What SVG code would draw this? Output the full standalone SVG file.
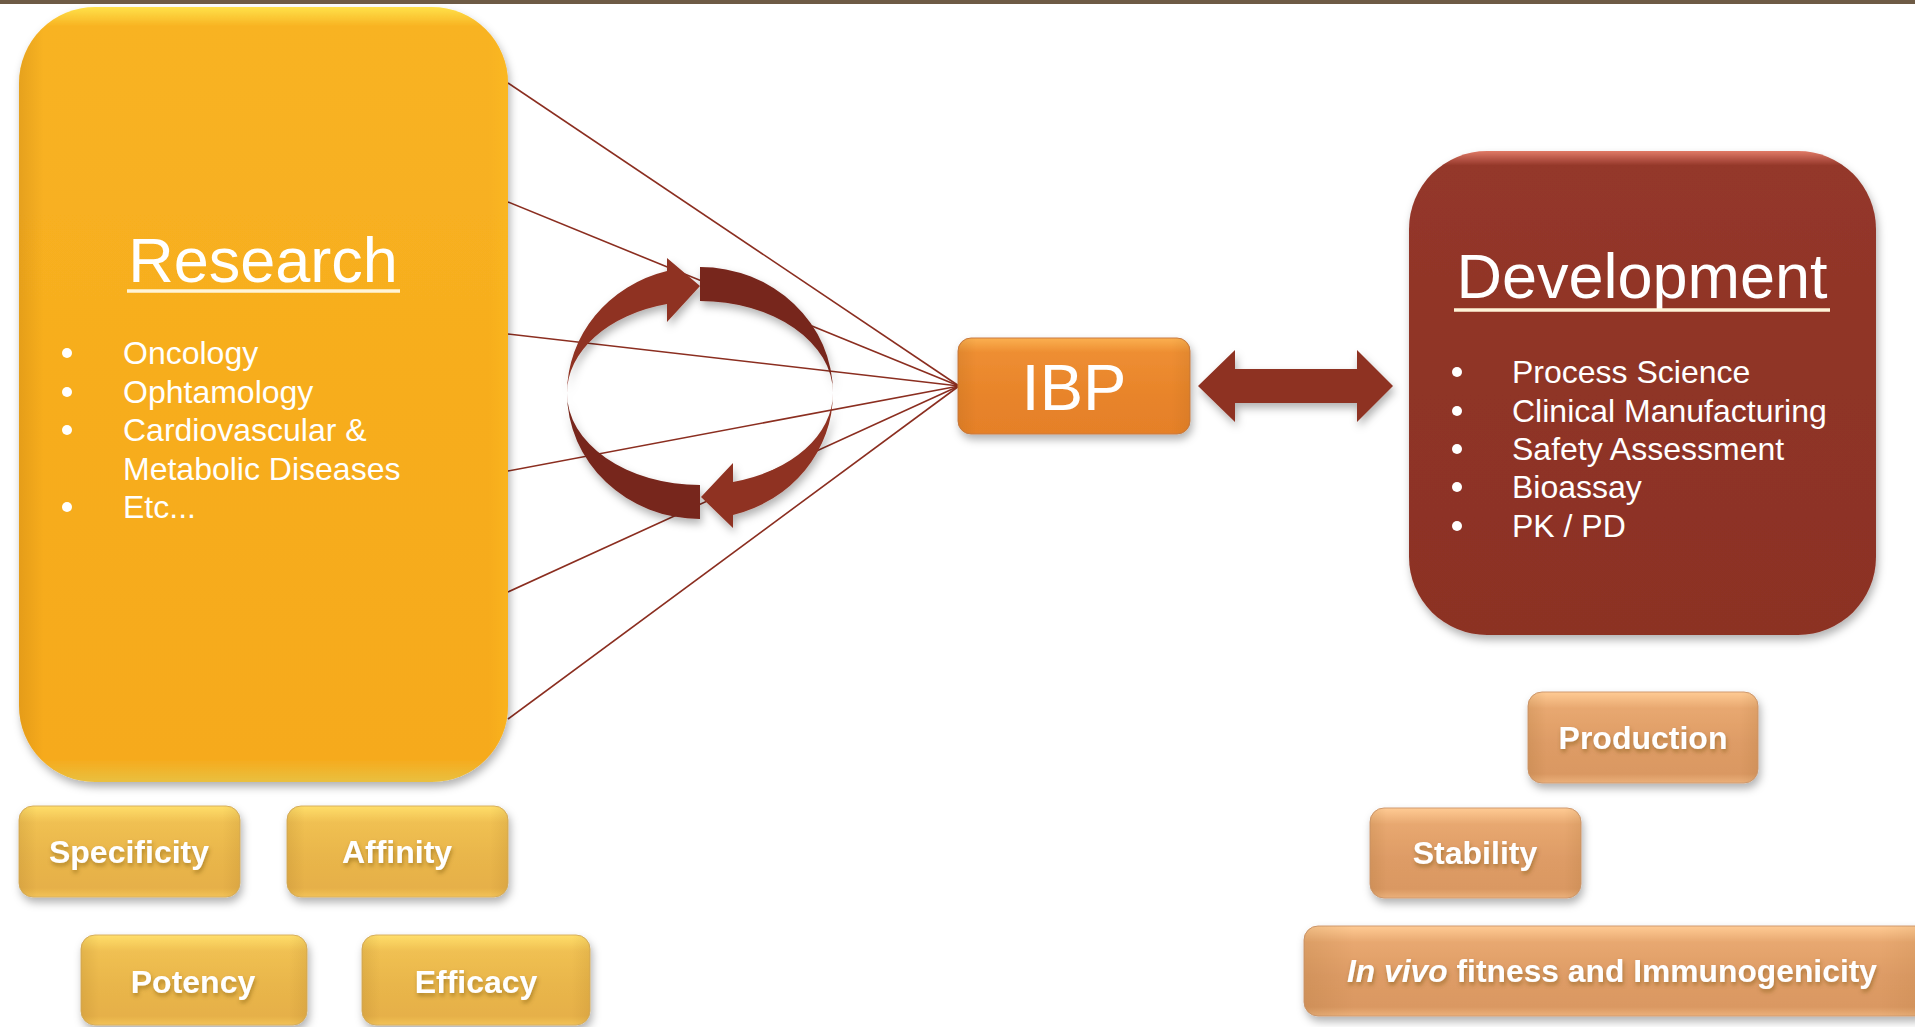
<svg xmlns="http://www.w3.org/2000/svg" width="1915" height="1027" viewBox="0 0 1915 1027">
<defs>
<style>
.t{font-family:"Liberation Sans",Arial,sans-serif;fill:#fff}
.title{font-size:63px}
.item{font-size:32px}
.btn{font-size:32px;font-weight:bold;text-anchor:middle}
.fan{stroke:#8B2E20;stroke-width:1.6;fill:none}
.ul{stroke:#FFF4D8;stroke-width:3.5}
</style>
<filter id="sh" x="-10%" y="-10%" width="125%" height="130%">
<feDropShadow dx="2" dy="5" stdDeviation="4" flood-color="#000" flood-opacity="0.3"/>
</filter>
<filter id="tsh" x="-10%" y="-20%" width="120%" height="160%">
<feDropShadow dx="1" dy="3" stdDeviation="2" flood-color="#6a4a10" flood-opacity="0.45"/>
</filter>
<linearGradient id="gRes" x1="0" y1="0" x2="0" y2="1">
<stop offset="0" stop-color="#FFE14A"/>
<stop offset="0.025" stop-color="#F8B322"/>
<stop offset="0.5" stop-color="#F7AD1E"/>
<stop offset="0.97" stop-color="#F6AA1C"/>
<stop offset="1" stop-color="#E9C040"/>
</linearGradient>
<linearGradient id="gResH" x1="0" y1="0" x2="1" y2="0">
<stop offset="0" stop-color="#B07010" stop-opacity="0.25"/>
<stop offset="0.05" stop-color="#B07010" stop-opacity="0"/>
<stop offset="0.96" stop-color="#FFC020" stop-opacity="0"/>
<stop offset="1" stop-color="#FFC020" stop-opacity="0.4"/>
</linearGradient>
<linearGradient id="gDev" x1="0" y1="0" x2="0" y2="1">
<stop offset="0" stop-color="#E07A66"/>
<stop offset="0.03" stop-color="#94372A"/>
<stop offset="0.5" stop-color="#8F3426"/>
<stop offset="1" stop-color="#8C3224"/>
</linearGradient>
<linearGradient id="gIbp" x1="0" y1="0" x2="0" y2="1">
<stop offset="0" stop-color="#FBB050"/>
<stop offset="0.15" stop-color="#EE8E32"/>
<stop offset="0.6" stop-color="#E8842A"/>
<stop offset="1" stop-color="#E58028"/>
</linearGradient>
<linearGradient id="gY" x1="0" y1="0" x2="0" y2="1">
<stop offset="0" stop-color="#FFDE6A"/>
<stop offset="0.18" stop-color="#F0C052"/>
<stop offset="0.55" stop-color="#E9B64B"/>
<stop offset="0.9" stop-color="#E6B048"/>
<stop offset="1" stop-color="#F2C257"/>
</linearGradient>
<linearGradient id="gO" x1="0" y1="0" x2="0" y2="1">
<stop offset="0" stop-color="#FFCB94"/>
<stop offset="0.18" stop-color="#E8A870"/>
<stop offset="0.55" stop-color="#DE9C66"/>
<stop offset="0.9" stop-color="#DA9862"/>
<stop offset="1" stop-color="#EBB07A"/>
</linearGradient>
<linearGradient id="gSide" x1="0" y1="0" x2="1" y2="0">
<stop offset="0" stop-color="#7a5010" stop-opacity="0.12"/>
<stop offset="0.08" stop-color="#7a5010" stop-opacity="0"/>
<stop offset="0.92" stop-color="#7a5010" stop-opacity="0"/>
<stop offset="1" stop-color="#7a5010" stop-opacity="0.1"/>
</linearGradient>
</defs>

<rect x="0" y="0" width="1915" height="1027" fill="#fff"/>
<rect x="0" y="0" width="1915" height="4" fill="#6E5B45"/>

<g id="connectors">
<line class="fan" x1="508" y1="83" x2="959" y2="386"/>
<line class="fan" x1="508" y1="202" x2="959" y2="386"/>
<line class="fan" x1="508" y1="334" x2="959" y2="386"/>
<line class="fan" x1="508" y1="471" x2="959" y2="386"/>
<line class="fan" x1="508" y1="592" x2="959" y2="386"/>
<line class="fan" x1="508" y1="719" x2="959" y2="386"/>
<path id="double-arrow" filter="url(#sh)" fill="#8E3122" d="M1198,386 L1235,350 L1235,369 L1357,369 L1357,350 L1393,386 L1357,422 L1357,403 L1235,403 L1235,422 Z"/>
</g>

<g id="cycle" filter="url(#sh)">
<path fill="#77251B" d="M700,267 A133,126 0 0 1 833,393 A133,92 0 0 0 700,301 Z"/>
<path fill="#77251B" d="M700,519 A133,126 0 0 1 567,393 A133,92 0 0 0 700,485 Z"/>
<path fill="#8F3222" d="M567,393 A133,126 0 0 1 667,271 L667,258 L700,286 L667,322 L667,304 A133,92 0 0 0 567,393 Z"/>
<path fill="#8F3222" d="M833,393 A133,126 0 0 1 733,515 L733,528 L701,497 L733,463 L733,482 A133,92 0 0 0 833,393 Z"/>
</g>

<g id="research">
<rect x="19" y="7" width="489" height="775" rx="76" ry="76" fill="url(#gRes)" filter="url(#sh)"/>
<rect x="19" y="7" width="489" height="775" rx="76" ry="76" fill="url(#gResH)"/>
<text class="t title" x="263" y="282" text-anchor="middle">Research</text>
<line class="ul" x1="127" y1="291" x2="400" y2="291"/>
<g class="t item">
<circle cx="67" cy="353" r="5" fill="#fff"/><text x="123" y="364">Oncology</text>
<circle cx="67" cy="392" r="5" fill="#fff"/><text x="123" y="403">Ophtamology</text>
<circle cx="67" cy="430" r="5" fill="#fff"/><text x="123" y="441">Cardiovascular &amp;</text>
<text x="123" y="480">Metabolic Diseases</text>
<circle cx="67" cy="507" r="5" fill="#fff"/><text x="123" y="518">Etc...</text>
</g>
</g>

<g id="ibp">
<rect x="958" y="338" width="232" height="96" rx="13" ry="13" fill="url(#gIbp)" stroke="#C97A40" stroke-width="1" filter="url(#sh)"/>
<rect x="958" y="338" width="232" height="96" rx="13" ry="13" fill="url(#gSide)"/>
<text class="t" x="1074" y="410" text-anchor="middle" font-size="65">IBP</text>
</g>

<g id="development">
<rect x="1409" y="151" width="467" height="484" rx="78" ry="78" fill="url(#gDev)" filter="url(#sh)"/>
<text class="t" x="1642" y="298" text-anchor="middle" font-size="63">Development</text>
<line class="ul" x1="1454" y1="310" x2="1830" y2="310" stroke="#F6E0D8"/>
<g class="t item">
<circle cx="1457" cy="372" r="5" fill="#fff"/><text x="1512" y="383">Process Science</text>
<circle cx="1457" cy="411" r="5" fill="#fff"/><text x="1512" y="422">Clinical Manufacturing</text>
<circle cx="1457" cy="449" r="5" fill="#fff"/><text x="1512" y="460">Safety Assessment</text>
<circle cx="1457" cy="487" r="5" fill="#fff"/><text x="1512" y="498">Bioassay</text>
<circle cx="1457" cy="526" r="5" fill="#fff"/><text x="1512" y="537">PK / PD</text>
</g>
</g>

<g id="specificity">
<rect x="19" y="806" width="221" height="91" rx="14" fill="url(#gY)" stroke="#D8B060" filter="url(#sh)"/>
<rect x="19" y="806" width="221" height="91" rx="14" fill="url(#gSide)"/>
<text class="t btn" x="129" y="863" filter="url(#tsh)">Specificity</text>
</g>
<g id="affinity">
<rect x="287" y="806" width="221" height="91" rx="14" fill="url(#gY)" stroke="#D8B060" filter="url(#sh)"/>
<rect x="287" y="806" width="221" height="91" rx="14" fill="url(#gSide)"/>
<text class="t btn" x="397" y="863" filter="url(#tsh)">Affinity</text>
</g>
<g id="potency">
<rect x="81" y="935" width="226" height="90" rx="14" fill="url(#gY)" stroke="#D8B060" filter="url(#sh)"/>
<rect x="81" y="935" width="226" height="90" rx="14" fill="url(#gSide)"/>
<text class="t btn" x="193" y="993" filter="url(#tsh)">Potency</text>
</g>
<g id="efficacy">
<rect x="362" y="935" width="228" height="90" rx="14" fill="url(#gY)" stroke="#D8B060" filter="url(#sh)"/>
<rect x="362" y="935" width="228" height="90" rx="14" fill="url(#gSide)"/>
<text class="t btn" x="476" y="993" filter="url(#tsh)">Efficacy</text>
</g>

<g id="production">
<rect x="1528" y="692" width="230" height="91" rx="14" fill="url(#gO)" stroke="#D09A70" filter="url(#sh)"/>
<rect x="1528" y="692" width="230" height="91" rx="14" fill="url(#gSide)"/>
<text class="t btn" x="1643" y="749" filter="url(#tsh)">Production</text>
</g>
<g id="stability">
<rect x="1370" y="808" width="211" height="90" rx="14" fill="url(#gO)" stroke="#D09A70" filter="url(#sh)"/>
<rect x="1370" y="808" width="211" height="90" rx="14" fill="url(#gSide)"/>
<text class="t btn" x="1475" y="864" filter="url(#tsh)">Stability</text>
</g>
<g id="invivo">
<rect x="1304" y="926" width="625" height="90" rx="14" fill="url(#gO)" stroke="#D09A70" filter="url(#sh)"/>
<rect x="1304" y="926" width="625" height="90" rx="14" fill="url(#gSide)"/>
<text class="t btn" x="1612" y="982" filter="url(#tsh)" textLength="530" lengthAdjust="spacingAndGlyphs"><tspan font-style="italic">In vivo</tspan> fitness and Immunogenicity</text>
</g>
</svg>
